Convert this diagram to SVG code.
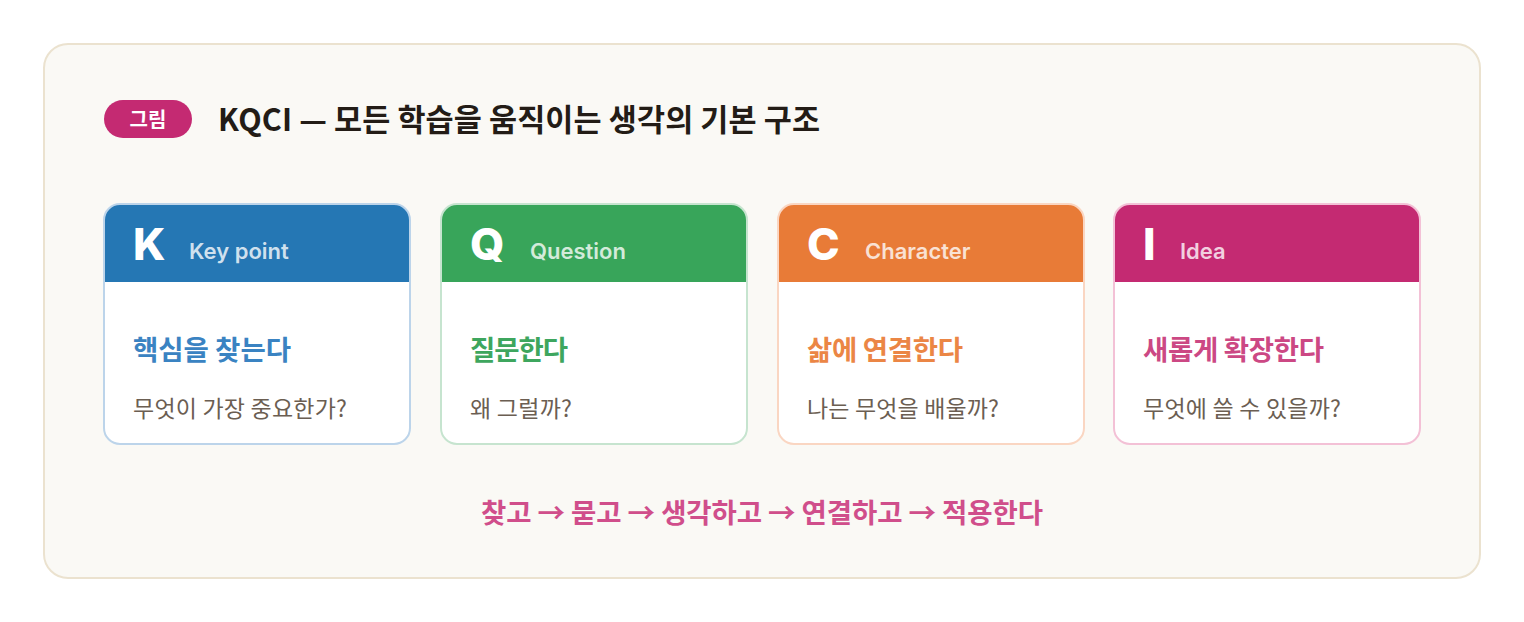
<svg xmlns="http://www.w3.org/2000/svg" width="1524" height="622" viewBox="0 0 1524 622">
<style>
.letter{font-family:"Inter","Liberation Sans",sans-serif;font-weight:800;font-size:44px;fill:#ffffff;}
.eng{font-family:"Inter","Liberation Sans",sans-serif;font-weight:600;font-size:22px;fill:#ffffff;fill-opacity:0.78;}
.head{font-family:"Noto Sans CJK KR",sans-serif;font-weight:700;font-size:27.5px;}
.sub{font-family:"Noto Sans CJK KR",sans-serif;font-weight:400;font-size:23px;fill:#6b5e52;}
</style>
<rect x="0" y="0" width="1524" height="622" fill="#ffffff"/>
<rect x="44" y="44" width="1436" height="534" rx="24" fill="#faf9f5" stroke="#ebe2cf" stroke-width="2"/>
<g id="badge">
<rect x="104" y="100" width="88" height="38" rx="19" fill="#c42a72"/>
<text x="148" y="126.5" text-anchor="middle" font-family="Noto Sans CJK KR, sans-serif" font-weight="700" font-size="20" fill="#ffffff">그림</text>
</g>
<text id="title" x="218" y="131" font-family="Noto Sans CJK KR, sans-serif" font-weight="700" font-size="30.5" fill="#231c16" textLength="602" lengthAdjust="spacing">KQCI — 모든 학습을 움직이는 생각의 기본 구조</text>

<defs>
<clipPath id="c1"><rect x="104" y="204" width="306" height="240" rx="16"/></clipPath>
<clipPath id="c2"><rect x="441" y="204" width="306" height="240" rx="16"/></clipPath>
<clipPath id="c3"><rect x="778" y="204" width="306" height="240" rx="16"/></clipPath>
<clipPath id="c4"><rect x="1114" y="204" width="306" height="240" rx="16"/></clipPath>
</defs>

<g id="card-K">
<rect x="104" y="204" width="306" height="240" rx="16" fill="#ffffff"/>
<rect x="104" y="204" width="306" height="78" fill="#2577b4" clip-path="url(#c1)"/>
<rect x="104" y="204" width="306" height="240" rx="16" fill="none" stroke="#bcd4ea" stroke-width="2"/>
<text class="letter" x="133" y="260">K</text>
<text class="eng" x="189" y="259">Key point</text>
<text class="head" x="133" y="360" fill="#3a83c2" textLength="158" lengthAdjust="spacing">핵심을 찾는다</text>
<text class="sub" x="133" y="417" textLength="214" lengthAdjust="spacing">무엇이 가장 중요한가?</text>
</g>

<g id="card-Q">
<rect x="441" y="204" width="306" height="240" rx="16" fill="#ffffff"/>
<rect x="441" y="204" width="306" height="78" fill="#38a55a" clip-path="url(#c2)"/>
<rect x="441" y="204" width="306" height="240" rx="16" fill="none" stroke="#c6e4cf" stroke-width="2"/>
<text class="letter" x="470" y="260">Q</text>
<text class="eng" x="530" y="259">Question</text>
<text class="head" x="470" y="360" fill="#3ea65e" textLength="98" lengthAdjust="spacing">질문한다</text>
<text class="sub" x="470" y="417" textLength="102" lengthAdjust="spacing">왜 그럴까?</text>
</g>

<g id="card-C">
<rect x="778" y="204" width="306" height="240" rx="16" fill="#ffffff"/>
<rect x="778" y="204" width="306" height="78" fill="#e87b37" clip-path="url(#c3)"/>
<rect x="778" y="204" width="306" height="240" rx="16" fill="none" stroke="#fad6c2" stroke-width="2"/>
<text class="letter" x="807" y="260">C</text>
<text class="eng" x="865" y="259">Character</text>
<text class="head" x="807" y="360" fill="#eb8645" textLength="156" lengthAdjust="spacing">삶에 연결한다</text>
<text class="sub" x="807" y="417" textLength="192" lengthAdjust="spacing">나는 무엇을 배울까?</text>
</g>

<g id="card-I">
<rect x="1114" y="204" width="306" height="240" rx="16" fill="#ffffff"/>
<rect x="1114" y="204" width="306" height="78" fill="#c42a72" clip-path="url(#c4)"/>
<rect x="1114" y="204" width="306" height="240" rx="16" fill="none" stroke="#f3c1d6" stroke-width="2"/>
<text class="letter" x="1143" y="260">I</text>
<text class="eng" x="1180" y="259">Idea</text>
<text class="head" x="1143" y="360" fill="#cc4884" textLength="181" lengthAdjust="spacing">새롭게 확장한다</text>
<text class="sub" x="1143" y="417" textLength="198" lengthAdjust="spacing">무엇에 쓸 수 있을까?</text>
</g>

<text id="flow" x="481" y="523" font-family="Noto Sans CJK KR, sans-serif" font-weight="700" font-size="27.5" fill="#d04e8b" textLength="562" lengthAdjust="spacing">찾고 → 묻고 → 생각하고 → 연결하고 → 적용한다</text>
</svg>
